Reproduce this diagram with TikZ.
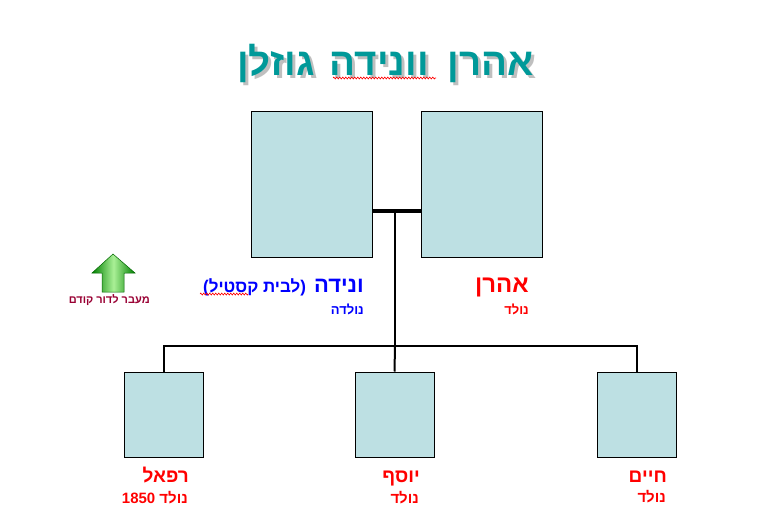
\documentclass[tikz,border=0pt]{standalone}
\usepackage{fontspec}
\setmainfont{Liberation Sans}
\newfontfamily\hebfont[Script=Hebrew]{Liberation Sans}
\TeXXeTstate=1
\usetikzlibrary{
  positioning,
  decorations.pathmorphing,
}
\newcommand\heb[1]{{\hebfont\bfseries\beginR #1\endR}}
\newcommand\familytitle{\fontsize{38.5}{44}\selectfont\heb{אהרן\hspace{19pt}וונידה\hspace{15pt}גוזלן}}
\definecolor{boxfill}{RGB}{189,224,227}
\definecolor{titleteal}{RGB}{0,153,153}
\definecolor{backred}{RGB}{153,0,51}
\definecolor{arrowdark}{RGB}{0,128,0}
\definecolor{arrowlight}{RGB}{170,240,150}

\begin{document}
\begin{tikzpicture}[x=1pt, y=-1pt,
  parentbox/.style={draw=black, line width=1pt, fill=boxfill, inner sep=0pt,
    minimum width=121pt, minimum height=146pt},
  childbox/.style={draw=black, line width=1pt, fill=boxfill, inner sep=0pt,
    minimum width=79pt, minimum height=85pt},
  label/.style={anchor=base east, inner sep=0pt},
  link/.style={draw=black, line width=2pt},
  squiggle/.style={draw=red, line width=0.6pt,
    decorate, decoration={zigzag, segment length=3pt, amplitude=1pt}},
]
\useasboundingbox (0,0) rectangle (770,520);
\node[label, text=black!25] at (537,78.5) {\familytitle};
\node[label, text=titleteal] (title) at (534,75.5) {\familytitle};
\draw[squiggle] (333,78) -- (436,78);

\node[parentbox] (vnaida) at (311.5,184) {};
\node[parentbox] (aharon) at (482,184) {};
\coordinate (wed) at (395,211);
\coordinate (kids) at (395,346);
\draw[link, line width=4pt] (vnaida.east |- wed) -- (aharon.west |- wed);
\draw[link] (wed) -- (kids);

\node[childbox] (rafael) at (163.5,414.5) {};
\node[childbox] (yosef) at (394.5,414.5) {};
\node[childbox] (haim) at (637,414.5) {};
\draw[link, line join=miter] (rafael.north) |- (kids) -| (haim.north);
\draw[link] (kids) -- (yosef.north);

\node[label, text=red] (aharonname) at (529,292.5) {\fontsize{24}{28}\selectfont\heb{אהרן}};
\node[label, text=red] (aharonborn) at (529,314) {\fontsize{13}{16}\selectfont\heb{נולד}};
\node[label, text=blue] (vnaidaname) at (364,292) {\heb{{\fontsize{22}{26}\selectfont ונידה}\hspace{8pt}{\fontsize{17}{20}\selectfont (לבית קסטיל)}}};
\draw[squiggle] (200,294) -- (248,294);
\node[label, text=blue] (vnaidaborn) at (364,314) {\fontsize{13}{16}\selectfont\heb{נולדה}};

\node[label, text=red] (rafaelname) at (189,482) {\fontsize{19}{22}\selectfont\heb{רפאל}};
\node[label, text=red] (rafaelborn) at (188,503.5) {\fontsize{15}{18}\selectfont\heb{נולד \beginL 1850\endL{}}};
\node[label, text=red] (yosefname) at (420,482) {\fontsize{19}{22}\selectfont\heb{יוסף}};
\node[label, text=red] (yosefborn) at (419,503.5) {\fontsize{15}{18}\selectfont\heb{נולד}};
\node[label, text=red] (haimname) at (667,482.5) {\fontsize{19}{22}\selectfont\heb{חיים}};
\node[label, text=red] (haimborn) at (666,502.5) {\fontsize{15}{18}\selectfont\heb{נולד}};

\shade[left color=arrowdark, right color=arrowdark, middle color=arrowlight, draw=arrowdark!80!black, line width=0.5pt]
  (113,254) -- (135,273) -- (124,273) -- (124,292) -- (102,292) -- (102,273) -- (92,273) -- cycle;
\node[label, text=backred] (back) at (150,303) {\fontsize{11}{13}\selectfont\heb{מעבר לדור קודם}};
\end{tikzpicture}
\end{document}
